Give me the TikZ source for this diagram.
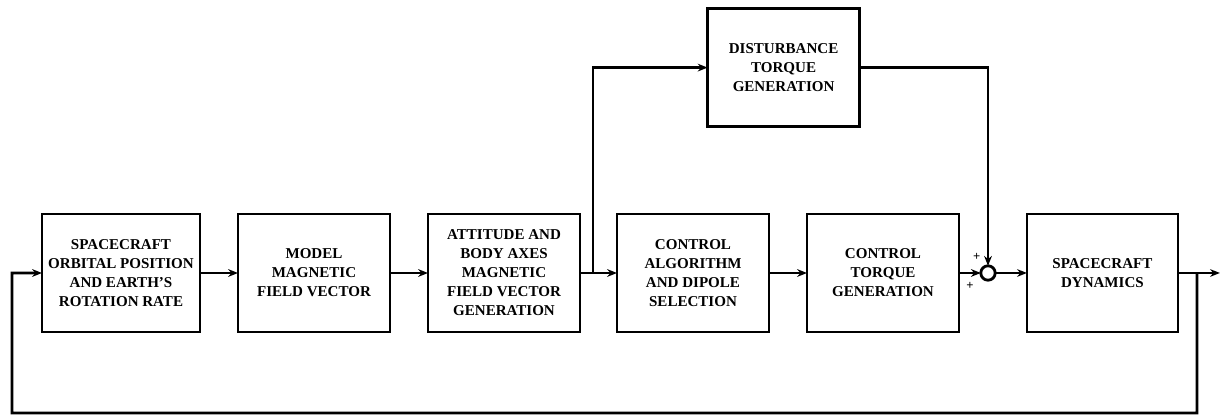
\documentclass[tikz,border=0pt]{standalone}
\usepackage{fontspec}
\setmainfont{Liberation Serif}
\usetikzlibrary{positioning,arrows.meta,calc}

\begin{document}
\begin{tikzpicture}[>={Stealth[length=7pt,width=5.5pt]}, line width=2pt,
  font=\fontsize{10.7}{13.5}\selectfont\bfseries,
  blk/.style={draw, line width=2pt, outer sep=0pt, minimum width=3.8cm, minimum height=2.95cm, align=center, inner sep=2pt},
  sum/.style={draw, circle, line width=2pt, outer sep=0pt, minimum size=0.36cm, inner sep=0pt}]
  \useasboundingbox (0,0) rectangle (30.7,10.4);

  % chaine directe
  \node[blk, minimum width=3.95cm] (orb) at (3.025,3.575) {SPACECRAFT\\ORBITAL POSITION\\AND EARTH'S\\ROTATION RATE};
  \node[blk, right=0.95cm of orb] (mdl) {MODEL\\MAGNETIC\\FIELD VECTOR};
  \node[blk, right=0.95cm of mdl] (att) {ATTITUDE AND\\BODY AXES\\MAGNETIC\\FIELD VECTOR\\GENERATION};
  \node[blk, right=0.925cm of att] (alg) {CONTROL\\ALGORITHM\\AND DIPOLE\\SELECTION};
  \node[blk, right=0.95cm of alg] (ctq) {CONTROL\\TORQUE\\GENERATION};
  \node[sum] (sum) at (24.7,3.575) {};
  \node[blk, minimum width=3.775cm] (dyn) at (27.56,3.575) {SPACECRAFT\\DYNAMICS};
  \node[blk] (dst) at (19.59,8.71) {DISTURBANCE\\TORQUE\\GENERATION};
  \node[font=\small\bfseries, inner sep=0pt] (pa) at (24.42,3.98) {+};
  \node[font=\small\bfseries, inner sep=0pt] (pb) at (24.25,3.24) {+};

  \draw[->] (orb.east) -- (mdl.west);
  \draw[->] (mdl.east) -- (att.west);
  \draw[->] (att.east) -- (alg.west);
  \draw[->] (alg.east) -- (ctq.west);
  \draw[->] (ctq.east) -- (sum.west);
  \draw[->] (sum.east) -- (dyn.west);

  % perturbation
  \coordinate (br) at ($(att.east)!0.35!(alg.west)$);
  \draw[->] (br) |- (dst.west);
  \draw[->] (dst.east) -| (sum.north);

  % sortie et retour
  \coordinate (out) at ($(dyn.east)+(1.05,0)$);
  \coordinate (tap) at ($(dyn.east)+(0.475,0)$);
  \coordinate (fbr) at (29.925,0.075);
  \coordinate (fbl) at (0.3,0.075);
  \draw[->] (dyn.east) -- (out);
  \draw[->] (tap) -- (fbr) -- (fbl) |- (orb.west);
\end{tikzpicture}
\end{document}
